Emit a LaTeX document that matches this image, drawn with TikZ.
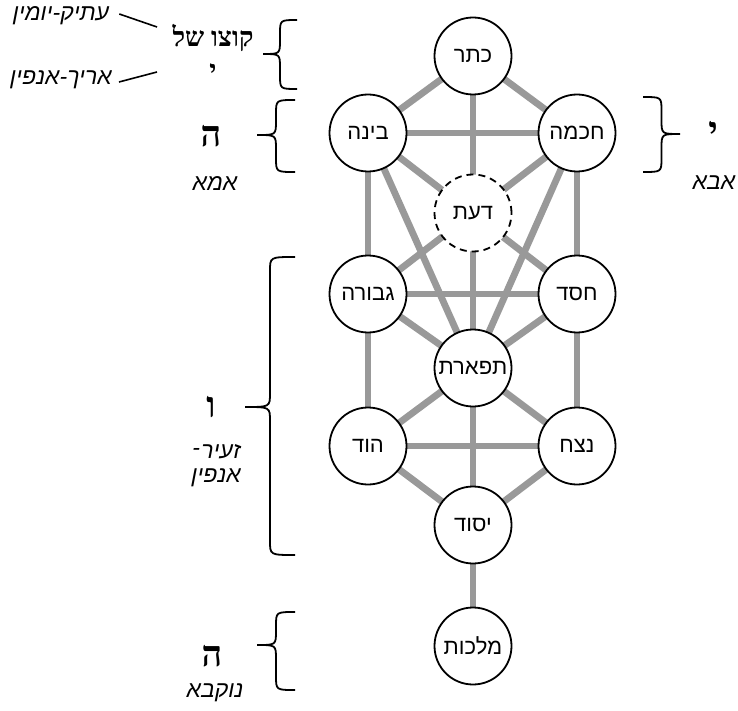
\documentclass[tikz,border=0pt]{standalone}
\usepackage{fontspec}
\TeXXeTstate=1
\newfontfamily\hebsans[Script=Hebrew]{Liberation Sans}
\newfontfamily\hebserif[Script=Hebrew]{Liberation Serif}
\usetikzlibrary{backgrounds}
\newcommand\LBrc[5]{% xend, ytop, ybot, ytip, width
  \draw[brc] (#1,#2) .. controls ({#1-#5/2},#2) .. ({#1-#5/2},{#2+14}) -- ({#1-#5/2},{#4-14})
    .. controls ({#1-#5/2},#4) .. ({#1-#5},#4) .. controls ({#1-#5/2},#4) .. ({#1-#5/2},{#4+14})
    -- ({#1-#5/2},{#3-14}) .. controls ({#1-#5/2},#3) .. (#1,#3);}
\newcommand\RBrc[5]{% xend, ytop, ybot, ytip, width
  \draw[brc] (#1,#2) .. controls ({#1+#5/2},#2) .. ({#1+#5/2},{#2+14}) -- ({#1+#5/2},{#4-14})
    .. controls ({#1+#5/2},#4) .. ({#1+#5},#4) .. controls ({#1+#5/2},#4) .. ({#1+#5/2},{#4+14})
    -- ({#1+#5/2},{#3-14}) .. controls ({#1+#5/2},#3) .. (#1,#3);}
\tikzset{
  sef/.style={circle, draw=black, line width=1.8pt, fill=white, minimum size=77pt, inner sep=0pt,
    font=\hebsans\fontsize{22}{24}\selectfont},
  daat/.style={sef, dash pattern=on 7pt off 5pt},
  path22/.style={draw=black!40, line width=6.8pt},
  brc/.style={draw=black, line width=1.8pt},
  hletter/.style={inner sep=0pt, font=\hebserif\bfseries\fontsize{36}{38}\selectfont},
  hword/.style={inner sep=0pt, font=\hebserif\bfseries\fontsize{27}{29}\selectfont},
  hlabel/.style={inner sep=0pt, font=\hebsans\itshape\fontsize{23}{26}\selectfont, align=center},
  pointer/.style={draw=black, line width=1.6pt}
}
\begin{document}
\begin{tikzpicture}[x=1pt,y=-1pt]
\useasboundingbox (0,0) rectangle (738,711);
% sefirot
\node[sef]  (keter)   at (473,56)  {\beginR כתר\endR};
\node[sef]  (binah)   at (368,133) {\beginR בינה\endR};
\node[sef]  (chokhma) at (577,133) {\beginR חכמה\endR};
\node[daat] (daat)    at (473,213) {\beginR דעת\endR};
\node[sef]  (gevura)  at (368,294) {\beginR גבורה\endR};
\node[sef]  (chesed)  at (577,294) {\beginR חסד\endR};
\node[sef]  (tiferet) at (473,368) {\beginR תפארת\endR};
\node[sef]  (hod)     at (368,446) {\beginR הוד\endR};
\node[sef]  (netzach) at (577,446) {\beginR נצח\endR};
\node[sef]  (yesod)   at (473,525) {\beginR יסוד\endR};
\node[sef]  (malkhut) at (473,646) {\beginR מלכות\endR};
\begin{pgfonlayer}{background}
\foreach \a/\b in {keter/binah, keter/chokhma, keter/tiferet, binah/chokhma, binah/chesed,
  chokhma/gevura, binah/gevura, chokhma/chesed, binah/tiferet, chokhma/tiferet,
  gevura/chesed, gevura/tiferet, chesed/tiferet, gevura/hod, chesed/netzach,
  tiferet/hod, tiferet/netzach, hod/netzach, hod/yesod, netzach/yesod, tiferet/yesod, yesod/malkhut}
  \draw[path22] (\a.center) -- (\b.center);
\end{pgfonlayer}
% braces
\LBrc{297}{20}{89}{54}{34}
\LBrc{295}{100}{172}{135}{38}
\LBrc{295}{257}{555}{407}{50}
\LBrc{295}{612}{690}{645}{38}
\RBrc{643}{97}{172}{134}{37}
% labels
\node[hword] (kotzo) at (213,38) {\beginR קוצו של\endR};
\node[hword] (yud1) at (213,72) {\beginR י\endR};
\node[hlabel] (atik) at (61,16) {\beginR עתיק-יומין\endR};
\node[hlabel] (arikh) at (61,80) {\beginR אריך-אנפין\endR};
\coordinate (p1) at (157,27);
\coordinate (p2) at (157,72);
\draw[pointer] (atik.east) ++(10,-2) coordinate (a1) (a1) -- (p1);
\draw[pointer] (arikh.east) ++(7,2) coordinate (a2) (a2) -- (p2);
\node[hletter] (he1) at (211,136) {\beginR ה\endR};
\node[hlabel] (ima) at (215,183) {\beginR אמא\endR};
\node[hletter] (yud2) at (713,132) {\beginR י\endR};
\node[hlabel] (abba) at (714,183) {\beginR אבא\endR};
\node[hletter] (vav) at (211,407) {\beginR ו\endR};
\node[hlabel] (za1) at (221,452) {\beginR זעיר\endR};
\node[hlabel, anchor=east] (zah) at ([xshift=-1pt]za1.west) {-};
\node[hlabel] (za2) at (216,478) {\beginR אנפין\endR};
\node[hletter] (he2) at (212,656) {\beginR ה\endR};
\node[hlabel] (nukva) at (215,693) {\beginR נוקבא\endR};
\end{tikzpicture}
\end{document}
